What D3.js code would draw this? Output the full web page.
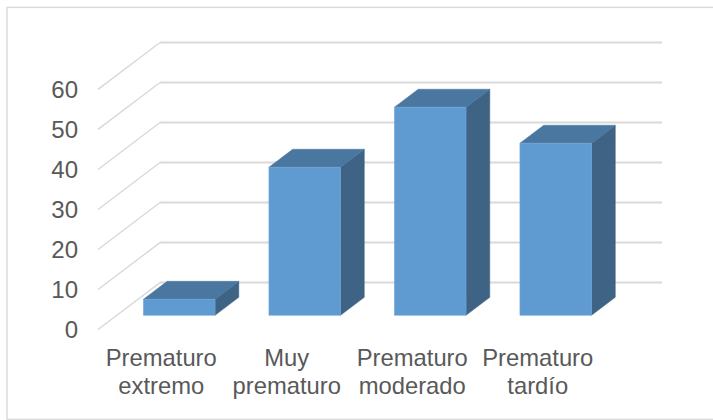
<!DOCTYPE html>
<html lang="es">
<head>
<meta charset="utf-8">
<script src="https://cdn.jsdelivr.net/npm/d3@7/dist/d3.min.js"></script>
<style>
  html, body { margin: 0; padding: 0; background: #fff; }
  svg { display: block; }
  text { font-family: "Liberation Sans", Arial, sans-serif; fill: #595959; }
</style>
</head>
<body>
<svg id="chart" width="713" height="420"></svg>
<script>
const categories = ["Prematuro extremo", "Muy prematuro", "Prematuro moderado", "Prematuro tardío"];
const categoryLines = [["Prematuro", "extremo"], ["Muy", "prematuro"], ["Prematuro", "moderado"], ["Prematuro", "tardío"]];
const values = [4, 37, 52, 43];
const yTicks = [0, 10, 20, 30, 40, 50, 60];

const svg = d3.select("#chart");

// Floor of the 3D box: front edge on screen, plus the shift to the back wall.
const depthShift = { x: 62, y: -46.9 };
const x = d3.scaleBand().domain(categories).range([98, 600]);
const y = d3.scaleLinear().domain([0, 60]).range([329.5, 89.4]);
const depth = d3.scaleLinear().domain([0, 1]).range([0, 1]);

// Projects a (horizontal px on the front plane, value, depth 0..1) point to the screen.
const project = (px, v, d) => [px + depthShift.x * depth(d), y(v) + depthShift.y * depth(d)];
const pathOf = pts => "M" + pts.map(p => p.join(",")).join("L") + "Z";

// Chart frame
svg.append("rect")
  .attr("x", 7).attr("y", 7.4).attr("width", 740).attr("height", 412)
  .attr("fill", "#fff").attr("stroke", "#d9d9d9").attr("stroke-width", 1.4);

// Gridlines: side wall diagonal, then along the back wall
const grid = svg.append("g").attr("fill", "none").attr("stroke", "#d9d9d9");
grid.selectAll("polyline.side").data(yTicks).join("polyline")
  .attr("class", "side")
  .attr("stroke-width", 1.4)
  .attr("points", t => [project(x.range()[0], t, 0), project(x.range()[0], t, 1)].join(" "));
grid.selectAll("polyline.back").data(yTicks).join("polyline")
  .attr("class", "back")
  .attr("stroke-width", 2)
  .attr("points", t => [project(x.range()[0], t, 1), project(x.range()[1], t, 1)].join(" "));

// Bars: each occupies a slab of the floor depth
const barFront = 0.303, barBack = 0.686, barWidth = 71.6;
const bars = svg.append("g").selectAll("g").data(categories).join("g");
const left = c => x(c) + x.bandwidth() / 2 - barWidth / 2 - 0.3;
const valueOf = c => values[categories.indexOf(c)];

bars.append("path") // side face
  .attr("fill", "#3e6385")
  .attr("stroke", "#3e6385").attr("stroke-width", 0.5)
  .attr("d", c => pathOf([
    project(left(c) + barWidth, 0, barFront),
    project(left(c) + barWidth, 0, barBack),
    project(left(c) + barWidth, valueOf(c), barBack),
    project(left(c) + barWidth, valueOf(c), barFront)
  ]));
bars.append("path") // top face
  .attr("fill", "#4a77a0")
  .attr("stroke", "#4a77a0").attr("stroke-width", 0.5)
  .attr("d", c => pathOf([
    project(left(c), valueOf(c), barFront),
    project(left(c) + barWidth, valueOf(c), barFront),
    project(left(c) + barWidth, valueOf(c), barBack),
    project(left(c), valueOf(c), barBack)
  ]));
bars.append("path") // front face
  .attr("fill", "#5f9bd1")
  .attr("stroke", "#6fa6d8").attr("stroke-width", 0.6)
  .attr("d", c => pathOf([
    project(left(c), 0, barFront),
    project(left(c) + barWidth, 0, barFront),
    project(left(c) + barWidth, valueOf(c), barFront),
    project(left(c), valueOf(c), barFront)
  ]));

// Value axis
const yAxis = d3.axisLeft(y).tickValues(yTicks).tickSize(0).tickPadding(0);
const yG = svg.append("g").attr("transform", "translate(78,0)").call(yAxis);
yG.select(".domain").remove();
yG.selectAll("text")
  .attr("x", 0).attr("dy", "0.32em")
  .style("font-size", "24px").style("font-family", null).attr("font-family", null);

// Category labels on two lines
const labels = svg.append("g").attr("text-anchor", "middle").style("font-size", "23.8px");
const labelY = [366, 394];
labels.selectAll("text").data(categories).join("text")
  .each(function (c, i) {
    d3.select(this).selectAll("tspan").data(categoryLines[i]).join("tspan")
      .attr("x", x(c) + x.bandwidth() / 2 + 0.5)
      .attr("y", (_, k) => labelY[k])
      .text(d => d);
  });
</script>
</body>
</html>
